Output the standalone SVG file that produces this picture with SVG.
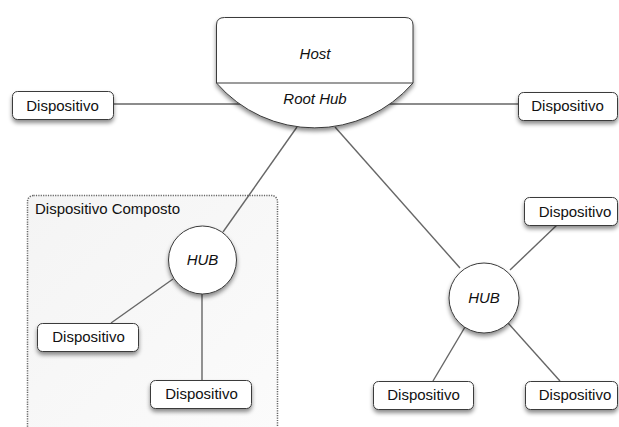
<svg xmlns="http://www.w3.org/2000/svg" width="619" height="427" viewBox="0 0 619 427">
  <defs>
    <filter id="shadow" x="-20%" y="-20%" width="140%" height="160%">
      <feDropShadow dx="0" dy="3" stdDeviation="2" flood-color="#000" flood-opacity="0.45"/>
    </filter>
    <linearGradient id="groupFill" x1="0" y1="0" x2="1" y2="1">
      <stop offset="0" stop-color="#f4f4f4"/>
      <stop offset="1" stop-color="#fbfbfb"/>
    </linearGradient>
  </defs>
  <style>
    .box { fill: #fff; stroke: #3a3a3a; stroke-width: 1; filter: url(#shadow); }
    .hub { fill: #fff; stroke: #3a3a3a; stroke-width: 1; filter: url(#shadow); }
    .wire { stroke: #666; stroke-width: 1.4; fill: none; }
    .lbl { font-family: "Liberation Sans", Arial, sans-serif; font-size: 15px; fill: #111; text-anchor: middle; }
    .it { font-style: italic; }
    .group { fill: url(#groupFill); stroke: #666; stroke-width: 1.5; stroke-dasharray: 1.2 1.2; }
  </style>

  <rect width="619" height="427" fill="#fff"/>

  <!-- compound device container -->
  <g id="dispositivo-composto">
    <rect class="group" x="27.5" y="195.5" width="250" height="240" rx="6"/>
    <text class="lbl" x="35" y="214" style="text-anchor:start">Dispositivo Composto</text>
  </g>

  <!-- connectors -->
  <g id="connectors">
    <line class="wire" x1="113" y1="104" x2="250" y2="104"/>
    <line class="wire" x1="380" y1="104" x2="518" y2="104"/>
    <line class="wire" x1="297" y1="127" x2="223" y2="232"/>
    <line class="wire" x1="335" y1="127" x2="460" y2="268"/>
    <line class="wire" x1="173" y1="279" x2="111" y2="323"/>
    <line class="wire" x1="202" y1="294" x2="202" y2="380"/>
    <line class="wire" x1="510" y1="270" x2="557" y2="225"/>
    <line class="wire" x1="465" y1="327" x2="433" y2="381"/>
    <line class="wire" x1="508" y1="323" x2="560" y2="381"/>
  </g>

  <!-- host with root hub -->
  <g id="host">
    <path class="box" d="M216.5,83 V25 Q216.5,17.5 224.5,17.5 H405 Q413,17.5 413,25 V83 A130,130 0 0 1 216.5,83 Z"/>
    <line x1="216.5" y1="83" x2="413" y2="83" stroke="#3a3a3a" stroke-width="1.2"/>
    <text class="lbl it" x="315" y="59">Host</text>
    <text class="lbl it" x="315" y="104">Root Hub</text>
  </g>

  <g id="dispositivo-esquerda">
    <rect class="box" x="12.5" y="91.5" width="101" height="28" rx="5"/>
    <text class="lbl" x="62.5" y="110.5">Dispositivo</text>
  </g>

  <g id="dispositivo-direita">
    <rect class="box" x="518.5" y="92.5" width="99" height="28" rx="5"/>
    <text class="lbl" x="567.5" y="111">Dispositivo</text>
  </g>

  <g id="hub-composto">
    <circle class="hub" cx="202.5" cy="260" r="34"/>
    <text class="lbl it" x="202.5" y="265">HUB</text>
  </g>

  <g id="dispositivo-composto-1">
    <rect class="box" x="37.5" y="323.5" width="101" height="28" rx="5"/>
    <text class="lbl" x="88.5" y="342">Dispositivo</text>
  </g>

  <g id="dispositivo-composto-2">
    <rect class="box" x="150.5" y="380.5" width="101" height="28" rx="5"/>
    <text class="lbl" x="201.5" y="399">Dispositivo</text>
  </g>

  <g id="hub">
    <circle class="hub" cx="484" cy="298" r="35"/>
    <text class="lbl it" x="484" y="302.5">HUB</text>
  </g>

  <g id="dispositivo-hub-1">
    <rect class="box" x="524.5" y="197.5" width="93" height="28" rx="5"/>
    <text class="lbl" x="575" y="217">Dispositivo</text>
  </g>

  <g id="dispositivo-hub-2">
    <rect class="box" x="373.5" y="381.5" width="100" height="28" rx="5"/>
    <text class="lbl" x="423.5" y="400">Dispositivo</text>
  </g>

  <g id="dispositivo-hub-3">
    <rect class="box" x="525.5" y="381.5" width="92" height="28" rx="5"/>
    <text class="lbl" x="575" y="400">Dispositivo</text>
  </g>
</svg>
